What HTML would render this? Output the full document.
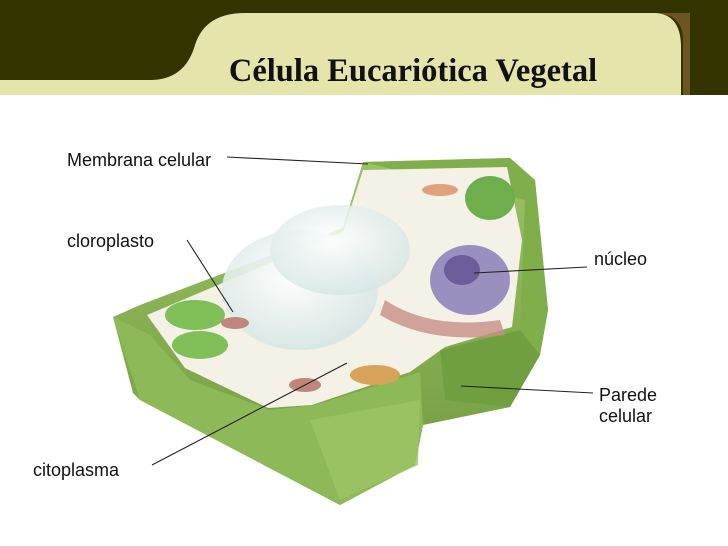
<!DOCTYPE html>
<html><head><style>
body{margin:0;width:728px;height:546px;background:#fff;overflow:hidden;position:relative;font-family:"Liberation Sans",sans-serif}
.l{position:absolute;font-size:18px;color:#111;line-height:21px}
</style></head><body>
<svg width="728" height="546" style="position:absolute;left:0;top:0">
<defs>
<radialGradient id="vac" cx="0.45" cy="0.4" r="0.6"><stop offset="0" stop-color="#fff"/><stop offset="1" stop-color="#d6e6e4"/></radialGradient>
<linearGradient id="wall" x1="0" y1="0" x2="0" y2="1"><stop offset="0" stop-color="#9cc266"/><stop offset="1" stop-color="#6e9a3c"/></linearGradient>
</defs>
<rect x="0" y="0" width="728" height="95" fill="#333300"/>
<path d="M683,95 L683,40 Q683,14 655,13 L690,13 Q690,14 690,40 L690,95Z" fill="#6e5420"/>
<path d="M0,95 L0,80 L150,80 Q185,80 195,45 Q205,13 245,13 L655,13 Q680,14 681,45 L681,95Z" fill="#e5e4aa"/>
<text x="413" y="81" text-anchor="middle" font-family="Liberation Serif,serif" font-weight="bold" font-size="32.5" fill="#111">Célula Eucariótica Vegetal</text>
<path d="M113,317 L140,305 L343,228 L363,162 L510,158 L535,180 L548,310 L540,355 L510,407 L423,425 L415,465 L340,505 L140,400 L133,393Z" fill="url(#wall)"/>
<path d="M363,162 L510,158 L535,180 L548,310 L540,355 L520,330 L525,200Z" fill="#7fae4a"/>
<path d="M147,315 L343,232 L363,170 L507,167 L522,240 L512,327 L445,347 L410,372 L312,405 L268,408 L185,368Z" fill="#f4f1e6"/>
<path d="M113,317 L150,335 L190,380 L270,410 L315,405 L420,372 L423,425 L415,465 L340,505 L140,400Z" fill="#8db958"/>
<path d="M310,420 L420,400 L418,465 L340,500Z" fill="#9cc466" opacity="0.8"/>
<path d="M440,350 L520,330 L540,355 L510,407 L445,400Z" fill="#6f9f3e"/>
<ellipse cx="300" cy="290" rx="78" ry="60" fill="url(#vac)" opacity="0.9"/>
<ellipse cx="340" cy="250" rx="70" ry="45" fill="url(#vac)" opacity="0.85"/>
<ellipse cx="470" cy="280" rx="40" ry="35" fill="#9b8fc0"/>
<ellipse cx="462" cy="270" rx="18" ry="15" fill="#6c5c9a"/>
<path d="M385,300 Q430,330 500,320 L505,335 Q430,345 380,315Z" fill="#c78f86" opacity="0.8"/>
<ellipse cx="195" cy="315" rx="30" ry="15" fill="#7fbf58"/>
<ellipse cx="200" cy="345" rx="28" ry="14" fill="#7fbf58"/>
<ellipse cx="235" cy="323" rx="14" ry="6" fill="#c0867a"/>
<ellipse cx="490" cy="198" rx="25" ry="22" fill="#6fae4c"/>
<ellipse cx="375" cy="375" rx="25" ry="10" fill="#d7a25a"/>
<ellipse cx="305" cy="385" rx="16" ry="7" fill="#c0867a"/>
<ellipse cx="440" cy="190" rx="18" ry="6" fill="#e0a27a"/>
<g stroke="#222" stroke-width="1.1" fill="none">
<line x1="227" y1="157" x2="368" y2="164"/>
<line x1="187" y1="240" x2="233" y2="312"/>
<line x1="474" y1="273" x2="587" y2="267"/>
<line x1="461" y1="386" x2="593" y2="393"/>
<line x1="152" y1="465" x2="347" y2="363"/>
</g>
</svg>
<div class="l" style="left:67px;top:150px">Membrana celular</div>
<div class="l" style="left:67px;top:231px">cloroplasto</div>
<div class="l" style="left:594px;top:249px">núcleo</div>
<div class="l" style="left:599px;top:385px">Parede<br>celular</div>
<div class="l" style="left:33px;top:460px">citoplasma</div>
</body></html>
